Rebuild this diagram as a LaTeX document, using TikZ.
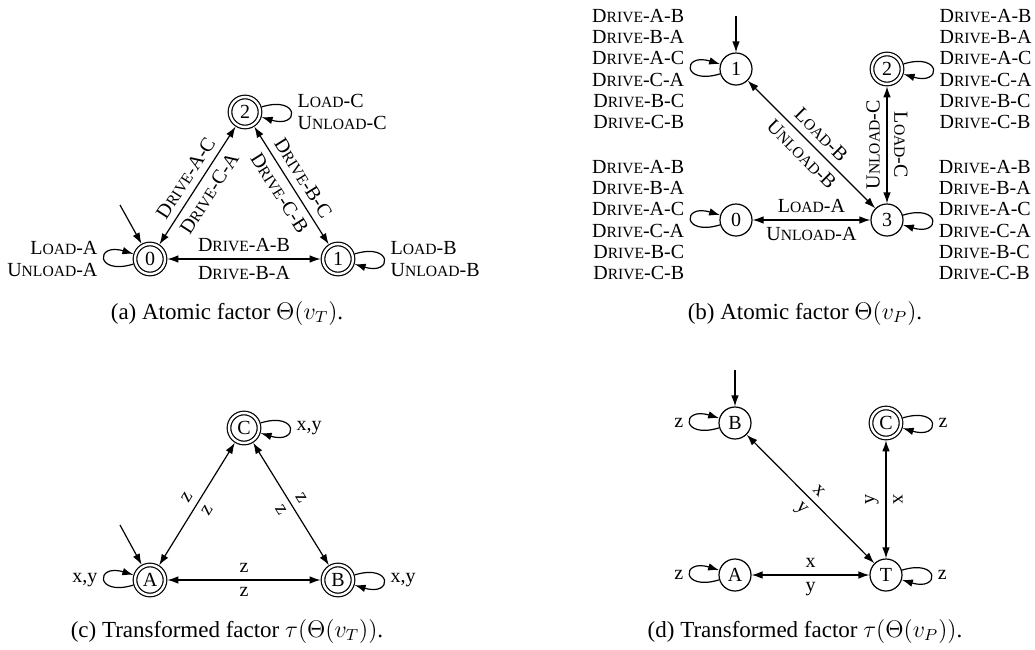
\documentclass[tikz,border=0pt]{standalone}
\usepackage{fontspec}
\setmainfont{Liberation Serif}
\usetikzlibrary{arrows.meta}
\newcommand\smc[1]{{\fontsize{7.8}{9}\selectfont\uppercase{#1}}}
\newcommand\lblfont{\fontsize{10}{10.6}\selectfont}
\newcommand\Dr[2]{D\smc{rive}-#1-#2}
\newcommand\Ld[1]{L\smc{oad}-#1}
\newcommand\Ul[1]{U\smc{nload}-#1}
\newcommand\drives{\Dr AB\\\Dr BA\\\Dr AC\\\Dr CA\\\Dr BC\\\Dr CB}
\tikzset{
  every node/.style={font=\lblfont},
  st/.style={circle, draw, minimum size=16pt, inner sep=0pt, line width=0.6pt},
  acc/.style={circle, draw, double, double distance=1.2pt, minimum size=15pt, inner sep=0pt, line width=0.6pt, outer sep=1.2pt},
  tr/.style={line width=0.6pt},
  >={Latex[length=5.5pt,width=3.8pt]},
  lpl/.style={loop, out=197, in=163, min distance=20pt, ->, line width=0.6pt},
  lpr/.style={loop, out=17, in=-17, min distance=20pt, ->, line width=0.6pt},
  captxt/.style={font=\fontsize{11.5}{13}\selectfont},
}
\begin{document}
\begin{tikzpicture}[x=0.5pt,y=-0.5pt]
\useasboundingbox (0,0) rectangle (1035,649);
% (a)
\node[acc] (a0) at (150,259) {0};
\node[acc] (a1) at (338,259) {1};
\node[acc] (a2) at (245,112) {2};
\coordinate (ia) at (120,205);
\draw[->,tr] (ia) -- (a0);
\path (a0) edge[lpl] node[left, align=right] {\Ld{A}\\\Ul{A}} (a0);
\path (a1) edge[lpr] node[right, align=left] {\Ld{B}\\\Ul{B}} (a1);
\path (a2) edge[lpr] node[right, align=left] {\Ld{C}\\\Ul{C}} (a2);
\draw[<->,tr] (a0) -- node[above] {\Dr AB} node[below] {\Dr BA} (a1);
\draw[<->,tr] (a0) -- node[above,sloped] {\Dr AC} node[below,sloped] {\Dr CA} (a2);
\draw[<->,tr] (a2) -- node[above,sloped] {\Dr BC} node[below,sloped] {\Dr CB} (a1);
\node[captxt] (capa) at (227,313) {(a) Atomic factor $\Theta(v_T)$.};
% (b)
\node[st] (b1) at (736,69) {1};
\node[acc] (b2) at (887,69) {2};
\node[st] (b0) at (736,220) {0};
\node[st] (b3) at (887,220) {3};
\coordinate (ib) at (736,16);
\draw[->,tr] (ib) -- (b1);
\path (b1) edge[lpl] node[left, align=right] {\drives} (b1);
\path (b2) edge[lpr] node[right, align=left] {\drives} (b2);
\path (b0) edge[lpl] node[left, align=right] {\drives} (b0);
\path (b3) edge[lpr] node[right, align=left] {\drives} (b3);
\draw[<->,tr] (b1) -- node[above,sloped] {\Ld{B}} node[below,sloped] {\Ul{B}} (b3);
\draw[<->,tr] (b2) -- node[anchor=south, rotate=-90] {\Ld{C}} node[anchor=south, rotate=90] {\Ul{C}} (b3);
\draw[<->,tr] (b0) -- node[above] {\Ld{A}} node[below] {\Ul{A}} (b3);
\node[captxt] (capb) at (805,313) {(b) Atomic factor $\Theta(v_P)$.};
% (c)
\node[acc] (cA) at (150,580) {A};
\node[acc] (cB) at (338,580) {B};
\node[acc] (cC) at (244,428) {C};
\coordinate (ic) at (120,525);
\draw[->,tr] (ic) -- (cA);
\path (cA) edge[lpl] node[left] {x,y} (cA);
\path (cB) edge[lpr] node[right] {x,y} (cB);
\path (cC) edge[lpr] node[right] {x,y} (cC);
\draw[<->,tr] (cA) -- node[above] {z} node[below] {z} (cB);
\draw[<->,tr] (cA) -- node[above,sloped] {z} node[below,sloped] {z} (cC);
\draw[<->,tr] (cC) -- node[above,sloped] {z} node[below,sloped] {z} (cB);
\node[captxt] (capc) at (227,631) {(c) Transformed factor $\tau(\Theta(v_T))$.};
% (d)
\node[st] (dB) at (735,423) {B};
\node[acc] (dC) at (886,423) {C};
\node[st] (dA) at (735,575) {A};
\node[st] (dT) at (886,575) {T};
\coordinate (id) at (735,370);
\draw[->,tr] (id) -- (dB);
\path (dB) edge[lpl] node[left] {z} (dB);
\path (dC) edge[lpr] node[right] {z} (dC);
\path (dA) edge[lpl] node[left] {z} (dA);
\path (dT) edge[lpr] node[right] {z} (dT);
\draw[<->,tr] (dB) -- node[above,sloped] {x} node[below,sloped] {y} (dT);
\draw[<->,tr] (dC) -- node[anchor=south, rotate=-90] {x} node[anchor=south, rotate=90] {y} (dT);
\draw[<->,tr] (dA) -- node[above] {x} node[below] {y} (dT);
\node[captxt] (capd) at (805,631) {(d) Transformed factor $\tau(\Theta(v_P))$.};
\end{tikzpicture}
\end{document}
